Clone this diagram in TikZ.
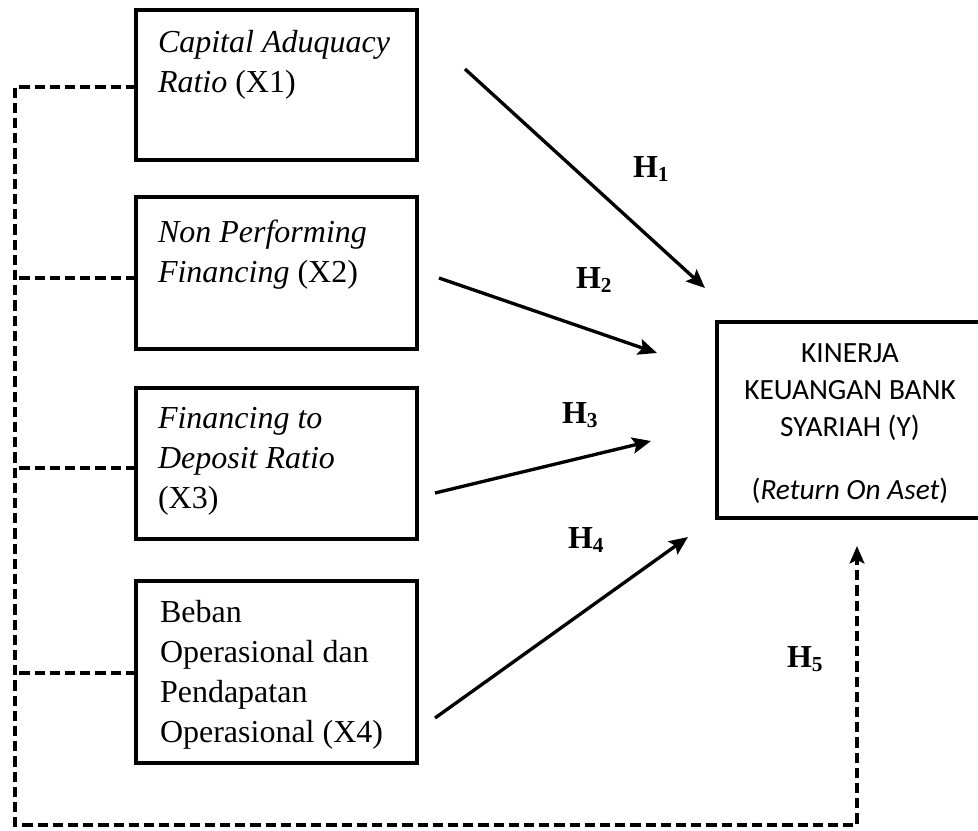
\documentclass[tikz,border=0pt]{standalone}
\usepackage{fontspec}
\setmainfont{Liberation Serif}
\newfontfamily\calibri{Carlito}
\usetikzlibrary{arrows.meta}
\begin{document}
\begin{tikzpicture}[x=0.375pt,y=-0.375pt,
  box/.style={draw,line width=1.35pt,rectangle,inner sep=0pt,outer sep=0pt,minimum width=105.4pt},
  txt/.style={inner sep=0pt,outer sep=0pt,anchor=base west,font=\fontsize{12}{15}\selectfont},
  hyp/.style={inner sep=0pt,outer sep=0pt,anchor=base west,font=\fontsize{12}{15}\selectfont\bfseries},
  arr/.style={line width=1.25pt,-{Stealth[length=7pt,width=6pt,inset=1.3pt]}},
  dline/.style={line width=1.3pt,dash pattern=on 3.8pt off 1.9pt}]
\useasboundingbox (0,0) rectangle (978,830);
% boxes
\node[box,minimum height=56.25pt] (x1) at (276.5,85) {};
\node[box,minimum height=57pt] (x2) at (276.5,273) {};
\node[box,minimum height=56.6pt] (x3) at (276.5,463.5) {};
\node[box,minimum height=68.25pt] (x4) at (276.5,672) {};
\node[box,minimum width=99.75pt,minimum height=73.5pt] (y) at (850,420) {};
% box texts
\node[txt] (t1) at (158,52) {\begin{tabular}[t]{@{}l@{}}\textit{Capital Aduquacy}\\ \textit{Ratio} (X1)\end{tabular}};
\node[txt] (t2) at (158,242) {\begin{tabular}[t]{@{}l@{}}\textit{Non Performing}\\ \textit{Financing} (X2)\end{tabular}};
\node[txt] (t3) at (158,428) {\begin{tabular}[t]{@{}l@{}}\textit{Financing to}\\ \textit{Deposit Ratio}\\ (X3)\end{tabular}};
\node[txt] (t4) at (160,622) {\begin{tabular}[t]{@{}l@{}}Beban\\ Operasional dan\\ Pendapatan\\ Operasional (X4)\end{tabular}};
\node[inner sep=0pt,outer sep=0pt,anchor=base,font=\calibri\fontsize{11}{14}\selectfont] (ty) at (850,362)
  {\begin{tabular}[t]{@{}c@{}}KINERJA\\ KEUANGAN BANK\\ SYARIAH (Y)\\[9.6pt] (\textit{Return On Aset})\end{tabular}};
% arrow end points
\coordinate (a1s) at (465,69);  \coordinate (a1e) at (705,288);
\coordinate (a2s) at (439,278); \coordinate (a2e) at (657,353);
\coordinate (a3s) at (435,493); \coordinate (a3e) at (651,441);
\coordinate (a4s) at (435,718); \coordinate (a4e) at (688,537);
\coordinate (bl) at (15,825);
\coordinate (a5e) at (857,546);
\draw[arr] (a1s) -- (a1e);
\draw[arr] (a2s) -- (a2e);
\draw[arr] (a3s) -- (a3e);
\draw[arr] (a4s) -- (a4e);
% dashed links
\draw[dline,-{Stealth[length=6.5pt,width=5.5pt,inset=1.3pt]}] ([yshift=-0.75pt]x1.west) -| (bl) -| (a5e);
\draw[dline] ([yshift=-1.9pt]x2.west) -- ([yshift=-1.9pt]x2.west -| bl);
\draw[dline] ([yshift=-1.7pt]x3.west) -- ([yshift=-1.7pt]x3.west -| bl);
\draw[dline] ([yshift=-0.4pt]x4.west) -- ([yshift=-0.4pt]x4.west -| bl);
% hypothesis labels
\node[hyp] (h1) at (633,177) {H\textsubscript{1}};
\node[hyp] (h2) at (576,288) {H\textsubscript{2}};
\node[hyp] (h3) at (562,423) {H\textsubscript{3}};
\node[hyp] (h4) at (568,548) {H\textsubscript{4}};
\node[hyp] (h5) at (787,667) {H\textsubscript{5}};
\end{tikzpicture}
\end{document}
